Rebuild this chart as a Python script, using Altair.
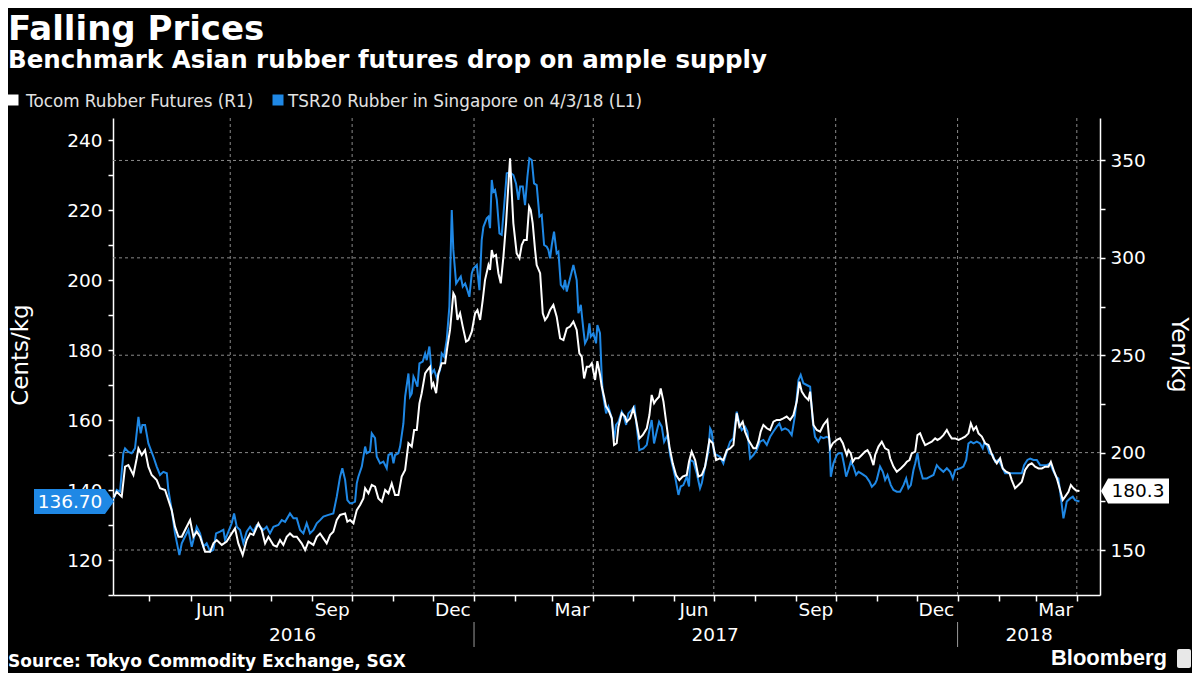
import altair as alt
import pandas as pd

# ---------------- data ----------------
BASE_DATE = "2016-04-04"   # day offsets below are counted from this date

# TSR20 Rubber in Singapore, US cents/kg (left axis): (day offset, value)
tsr20_points = [
    (0, 137.5), (2.3, 140.0), (4.8, 139.5), (7.3, 150.5), (8.6, 151.9), (11.1, 150.9), (13.6, 150.5),
    (16.1, 151.9), (18.7, 160.9), (20.4, 156.2), (21.7, 158.6), (23.7, 158.6), (26.2, 153.3),
    (30.0, 149.5), (32.5, 146.7), (35.0, 144.3), (37.5, 145.2), (40.1, 144.8), (41.3, 140.0),
    (43.8, 134.3), (46.3, 127.6), (49.6, 121.4), (51.4, 124.8), (53.9, 126.7), (56.4, 128.6),
    (58.9, 123.8), (62.7, 129.5), (65.2, 127.6), (67.7, 123.8), (70.2, 124.8), (72.8, 122.4),
    (75.3, 122.9), (77.3, 127.6), (80.3, 128.1), (82.8, 128.6), (84.1, 125.7), (86.6, 128.1),
    (89.1, 130.5), (90.9, 133.3), (92.9, 129.5), (95.4, 128.6), (97.9, 124.8), (100.4, 128.1),
    (103.0, 129.5), (105.5, 128.1), (108.0, 130.0), (110.5, 129.5), (113.0, 128.6), (115.5, 129.5),
    (118.0, 127.6), (120.6, 129.5), (124.3, 130.0), (126.9, 131.4), (129.4, 130.9), (133.1, 133.3),
    (135.7, 131.9), (138.2, 131.9), (140.7, 128.6), (143.2, 127.6), (145.7, 130.5), (148.2, 127.6),
    (150.8, 128.6), (153.3, 130.5), (155.8, 131.4), (158.3, 132.4), (162.1, 132.9), (165.8, 133.3),
    (168.4, 138.1), (170.9, 143.8), (172.6, 146.2), (174.7, 142.9), (176.4, 137.1), (178.4, 136.2),
    (179.7, 136.2), (182.2, 136.7), (183.5, 141.9), (184.7, 143.8), (187.3, 146.7), (189.8, 152.4),
    (191.0, 150.5), (193.5, 151.0), (194.8, 156.2), (197.3, 154.8), (198.6, 149.5), (201.1, 147.6),
    (203.6, 148.1), (206.1, 146.2), (207.4, 150.0), (209.9, 150.5), (211.2, 147.6), (212.4, 150.0),
    (214.9, 150.5), (216.2, 152.4), (218.7, 159.0), (220.0, 166.7), (222.5, 173.3), (223.7, 166.7),
    (225.0, 167.6), (226.3, 172.4), (227.5, 171.4), (229.3, 169.5), (230.8, 176.2), (233.3, 176.7),
    (235.1, 179.0), (236.3, 177.1), (238.3, 181.0), (240.1, 173.3), (241.9, 174.3), (243.9, 171.9),
    (246.4, 174.3), (247.6, 179.0), (249.4, 178.1), (251.4, 182.9), (253.4, 192.4), (255.2, 220.0),
    (256.4, 208.6), (258.5, 199.0), (260.2, 200.0), (262.0, 201.0), (263.5, 198.1), (265.3, 199.0),
    (267.0, 197.1), (268.5, 195.2), (270.3, 201.9), (271.5, 203.3), (274.1, 204.3), (276.1, 197.1),
    (277.8, 211.4), (279.1, 215.2), (281.6, 217.6), (282.9, 218.1), (284.1, 214.8), (285.4, 228.6),
    (286.6, 225.2), (287.9, 225.7), (289.2, 222.9), (291.2, 213.3), (292.9, 212.9), (294.7, 221.0),
    (296.7, 230.5), (299.2, 230.7), (301.7, 230.0), (303.7, 227.6), (305.5, 222.9), (306.8, 226.7),
    (308.8, 226.7), (310.5, 221.4), (312.3, 229.5), (313.8, 234.8), (315.6, 234.3), (317.3, 227.6),
    (319.3, 227.1), (321.4, 218.1), (323.1, 218.6), (324.9, 210.0), (326.9, 209.5), (328.1, 208.6),
    (329.4, 206.2), (330.7, 210.0), (332.4, 213.8), (334.4, 207.6), (335.7, 208.1), (337.5, 198.6),
    (339.5, 197.6), (340.7, 200.0), (342.0, 196.7), (344.5, 200.5), (347.0, 204.3), (349.5, 200.0),
    (350.8, 190.5), (352.6, 192.9), (354.6, 185.7), (355.8, 181.9), (357.6, 183.3), (359.1, 187.6),
    (360.1, 183.8), (362.1, 184.8), (364.1, 181.9), (365.1, 187.1), (367.1, 184.8),
    (368.4, 172.4), (369.2, 167.6), (371.7, 161.9), (373.4, 163.8), (376.0, 160.5), (377.7, 154.3),
    (379.2, 158.6), (381.0, 159.5), (383.5, 162.4), (384.8, 161.4), (386.8, 158.6), (388.5, 161.9),
    (391.0, 162.9), (393.1, 163.8), (394.8, 158.1), (396.8, 151.4), (399.9, 151.9), (402.4, 152.9),
    (404.4, 157.1), (406.1, 160.0), (407.9, 153.3), (409.9, 156.7), (411.7, 159.5), (413.7, 158.1),
    (415.5, 153.8), (418.0, 155.7), (420.0, 150.0), (422.0, 146.7), (423.8, 143.8), (426.3, 138.6),
    (428.0, 141.0), (430.0, 141.4), (432.6, 143.8), (434.3, 141.0), (435.1, 148.6), (437.6, 148.1),
    (440.1, 144.8), (442.6, 140.5), (443.9, 141.9), (446.4, 146.7), (448.9, 151.0), (450.2, 157.6),
    (451.4, 156.7), (453.2, 150.5), (455.2, 150.0), (457.7, 149.5), (460.2, 147.6), (462.8, 151.0),
    (465.3, 153.8), (467.8, 154.8), (470.3, 162.4), (472.3, 159.0), (474.1, 157.1), (476.6, 158.1),
    (478.4, 156.7), (480.4, 149.0), (482.9, 150.0), (485.4, 151.4), (487.9, 153.8), (490.4, 154.3),
    (493.0, 152.9), (495.5, 155.2), (498.0, 156.7), (500.5, 158.1), (502.5, 159.0), (504.3, 157.1),
    (506.8, 157.6), (509.3, 157.1), (511.8, 155.7), (514.3, 161.4), (516.9, 171.4), (518.6, 172.9),
    (520.6, 170.5), (523.1, 170.0), (525.7, 169.5), (527.7, 159.5), (529.4, 155.2), (531.9, 153.8),
    (533.7, 155.2), (535.7, 154.8), (538.2, 155.2), (540.2, 154.8), (541.3, 143.8), (543.3, 147.6),
    (545.8, 150.0), (547.1, 150.5), (549.6, 150.5), (551.4, 147.1), (552.9, 143.8), (554.6, 145.7),
    (556.4, 148.1), (558.4, 146.7), (560.4, 144.3), (562.2, 145.2), (564.0, 144.8), (566.0, 144.3),
    (568.0, 143.8), (570.5, 142.4), (572.3, 140.9), (574.8, 141.9), (576.0, 142.9), (578.5, 146.7),
    (580.6, 145.2), (582.3, 142.9), (584.1, 144.3), (586.6, 141.4), (588.6, 140.0), (591.1, 139.5),
    (593.6, 139.5), (596.2, 141.4), (598.2, 143.3), (599.9, 140.5), (601.7, 141.4), (603.7, 145.7),
    (605.0, 147.6), (606.7, 150.5), (608.2, 146.7), (610.7, 143.3), (613.8, 143.3), (616.3, 143.8),
    (618.8, 144.3), (621.3, 147.1), (623.3, 146.2), (626.3, 145.2), (628.9, 146.2), (631.4, 145.2),
    (633.4, 143.3), (635.2, 145.7), (638.9, 146.2), (641.4, 146.7), (643.5, 148.6), (645.2, 153.3),
    (647.0, 153.8), (649.0, 153.3), (651.5, 153.8), (654.0, 153.3), (656.0, 151.9), (657.0, 153.3),
    (659.1, 152.9), (661.1, 150.5), (663.6, 150.0), (665.3, 148.1), (667.9, 148.6), (670.4, 146.7),
    (672.9, 144.8), (676.7, 144.8), (681.7, 144.8), (685.5, 144.8), (687.2, 147.1), (689.7, 148.6),
    (691.8, 149.0), (694.3, 148.6), (696.8, 148.6), (699.3, 147.1), (701.8, 147.1), (704.3, 147.1),
    (706.9, 147.6), (708.9, 145.7), (711.4, 143.8), (713.1, 143.3), (714.9, 138.1), (716.9, 131.9),
    (718.2, 134.3), (719.4, 136.7), (722.0, 137.6), (724.0, 138.1), (725.7, 137.1), (729, 136.7),
]

# Tocom Rubber Futures, yen/kg (right axis): (day offset, value)
tocom_points = [
    (0, 177.0), (2.3, 179.9), (6.1, 177.4), (8.6, 192.8), (11.1, 193.6), (14.9, 188.5), (17.4, 197.0),
    (18.7, 202.2), (21.2, 198.8), (23.7, 201.3), (26.2, 192.8), (28.7, 188.5), (32.5, 185.9),
    (35.0, 181.7), (38.8, 180.8), (41.3, 175.7), (43.8, 170.5), (46.3, 162.0), (48.9, 156.8),
    (51.4, 156.8), (53.9, 160.3), (57.7, 165.4), (60.2, 156.8), (62.7, 159.4), (65.2, 156.8),
    (69.0, 149.1), (72.8, 149.1), (75.3, 153.4), (77.8, 155.1), (81.6, 152.6), (85.3, 154.3),
    (89.1, 158.5), (91.6, 161.1), (94.1, 153.4), (97.4, 147.4), (100.4, 155.1), (103.0, 158.5),
    (105.5, 157.7), (109.2, 163.7), (111.8, 160.3), (114.3, 153.4), (116.8, 156.8), (120.6, 152.5),
    (123.1, 151.7), (125.6, 155.1), (128.1, 152.6), (130.6, 156.8), (133.1, 158.5), (135.7, 156.8),
    (138.2, 156.8), (141.9, 153.4), (144.5, 150.0), (147.0, 154.3), (150.8, 152.6), (153.3, 156.8),
    (155.8, 158.5), (158.3, 156.0), (160.8, 153.4), (163.3, 157.7), (165.8, 159.4), (168.4, 165.4),
    (170.9, 168.0), (174.7, 168.8), (176.4, 164.5), (178.4, 165.4),
    (181.0, 163.7), (183.5, 170.5), (186.0, 173.1), (188.5, 176.5), (189.8, 181.7), (192.3, 179.1),
    (194.8, 183.4), (197.3, 182.5), (199.8, 176.5), (202.4, 174.8), (204.9, 180.8), (207.4, 179.1),
    (209.9, 184.2), (212.4, 178.2), (214.9, 178.2), (217.4, 187.7), (220.0, 191.1), (222.5, 204.8),
    (225.0, 203.1), (226.8, 211.6), (228.8, 211.6), (230.8, 225.3), (232.5, 230.5), (235.1, 240.7),
    (236.8, 242.4), (238.8, 244.1), (240.1, 233.9), (241.3, 235.6), (243.4, 230.5), (245.1, 240.7),
    (247.6, 245.9), (250.2, 245.9), (251.9, 254.4), (253.9, 263.0), (256.4, 281.8), (257.7, 280.1),
    (259.5, 268.1), (261.5, 271.5), (263.5, 264.7), (266.0, 257.0), (267.8, 257.8), (270.3, 262.1),
    (272.8, 271.5), (274.6, 273.2), (276.6, 268.1), (278.6, 278.4), (280.3, 288.6), (282.9, 296.3),
    (284.1, 293.8), (285.4, 304.0), (286.6, 300.6), (288.6, 301.5), (290.4, 292.1), (292.2, 286.9),
    (294.2, 300.6), (296.2, 317.7), (298.0, 338.3), (299.2, 351.1), (300.5, 333.1), (301.7, 317.7),
    (304.2, 302.3), (306.3, 299.8), (308.0, 306.6), (309.8, 309.2), (311.8, 309.2), (313.6, 326.3),
    (314.8, 324.6), (316.3, 317.7), (318.1, 304.0), (319.3, 296.3), (321.9, 292.1), (323.9, 271.5),
    (325.6, 268.1), (327.4, 269.8), (329.4, 273.2), (331.9, 275.8), (334.4, 269.8), (337.0, 258.7),
    (339.5, 257.8), (342.0, 263.8), (344.5, 264.7), (347.0, 267.2), (349.5, 263.0), (351.5, 251.0),
    (353.3, 249.3), (355.1, 238.1), (357.1, 244.1), (359.1, 244.1), (360.9, 245.9), (363.4, 237.3),
    (365.1, 247.0), (367.1, 240.0),
    (368.4, 233.9), (370.2, 228.7), (371.7, 223.6), (373.4, 221.9), (376.0, 217.6), (377.7, 203.9),
    (379.7, 204.8), (381.0, 213.3), (383.5, 220.2), (386.0, 218.5), (387.3, 215.9), (389.8, 217.6),
    (392.3, 222.7), (394.3, 216.8), (396.8, 207.3), (399.4, 209.1), (402.4, 212.5), (404.4, 219.3),
    (406.1, 229.6), (407.9, 225.3), (409.4, 227.0), (411.7, 228.7), (412.9, 233.0), (415.0, 226.2),
    (417.0, 215.9), (419.5, 203.1), (422.0, 194.5), (424.5, 188.5), (427.0, 185.9), (429.5, 187.7),
    (432.6, 188.5), (434.3, 195.4), (436.3, 200.5), (438.9, 196.2), (441.4, 187.7), (443.9, 188.5),
    (446.4, 192.8), (449.7, 206.5), (452.2, 204.8), (454.7, 196.2), (457.7, 197.1), (460.2, 196.2),
    (462.8, 201.3), (465.3, 202.2), (467.8, 203.9), (470.3, 220.2), (472.3, 213.3), (474.8, 215.9),
    (476.6, 210.8), (479.1, 206.5), (482.9, 202.2), (484.9, 202.2), (486.7, 205.6), (488.4, 210.8),
    (490.4, 214.2), (493.0, 212.5), (495.5, 211.6), (498.0, 215.9), (500.5, 216.8), (503.0, 216.8),
    (505.5, 217.6), (508.0, 218.5), (510.6, 216.8), (513.1, 219.3), (515.6, 226.2), (517.6, 236.4),
    (519.4, 231.3), (521.9, 228.7), (524.4, 227.0), (525.7, 231.3), (528.2, 214.2), (530.7, 211.6),
    (533.2, 210.8), (535.7, 214.2), (538.7, 216.8), (540.8, 202.2), (542.8, 204.8), (545.8, 206.5),
    (548.3, 207.3), (550.4, 204.8), (552.1, 201.3), (553.4, 198.8), (554.6, 201.3), (556.4, 199.6),
    (557.9, 195.3), (559.7, 197.1), (562.2, 197.1), (564.7, 198.8), (567.2, 200.5), (569.0, 201.3),
    (571.0, 198.8), (573.5, 193.6), (574.8, 198.8), (577.3, 203.1), (579.8, 205.6), (582.3, 202.2),
    (584.8, 201.3), (586.1, 197.1), (588.6, 192.8), (591.1, 190.2), (594.1, 191.9), (596.7, 193.6),
    (598.7, 195.3), (600.7, 196.2), (602.4, 199.6), (605.0, 200.5), (606.7, 209.0), (608.7, 209.9),
    (610.7, 206.5), (612.5, 203.9), (615.0, 204.8), (617.5, 205.6), (620.1, 207.3), (621.8, 206.5),
    (623.8, 207.3), (626.3, 209.0), (628.9, 211.6), (630.9, 209.0), (632.6, 207.3), (635.2, 207.3),
    (637.7, 206.5), (640.2, 207.3), (642.7, 208.2), (645.2, 209.9), (647.0, 215.0), (649.0, 211.6),
    (651.0, 213.3), (652.8, 209.9), (655.3, 208.2), (657.8, 204.8), (660.3, 203.9), (662.1, 200.5),
    (664.1, 197.1), (666.6, 194.5), (669.1, 197.1), (671.1, 191.9), (673.6, 190.2), (676.2, 189.4),
    (677.9, 185.9), (680.4, 181.7), (683.0, 183.4), (685.5, 185.1), (688.0, 191.1), (690.5, 193.6),
    (693.0, 194.5), (695.5, 192.8), (698.1, 191.9), (700.6, 191.9), (703.1, 192.8), (705.6, 192.8),
    (707.4, 195.3), (709.9, 190.2), (711.9, 186.8), (714.4, 180.8), (716.4, 175.7), (718.2, 177.4),
    (720.7, 179.9), (722.5, 183.4), (724.5, 181.7), (726.5, 180.5), (729, 180.3),
]

left_ticks = [110, 120, 130, 140, 150, 160, 170, 180, 190, 200, 210, 220, 230, 240]
right_ticks = [150, 175, 200, 225, 250, 275, 300, 325, 350]
right_grid = [150, 200, 250, 300, 350]
quarter_grid = ["2016-07-01", "2016-10-01", "2017-01-01", "2017-04-01",
                "2017-07-01", "2017-10-01", "2018-01-01", "2018-04-01"]
month_label_text = ["Jun", "Sep", "Dec", "Mar", "Jun", "Sep", "Dec", "Mar"]
month_label_dates = ["2016-06-16", "2016-09-16", "2016-12-16", "2017-03-16",
                     "2017-06-16", "2017-09-16", "2017-12-16", "2018-03-16"]
year_text = ["2016", "2017", "2018"]
year_dates = ["2016-08-17", "2017-07-02", "2018-02-24"]
year_breaks = ["2017-01-01", "2018-01-01"]

BLUE = "#1f88e5"
WHITE = "#ffffff"
GRID = "#8a8a8a"
FONT = "DejaVu Sans"

# ---------------- frames ----------------
base = pd.Timestamp(BASE_DATE)
tsr_days, tsr_vals = zip(*tsr20_points)
toc_days, toc_vals = zip(*tocom_points)
df_tsr = pd.DataFrame({"date": base + pd.to_timedelta(list(tsr_days), unit="D"), "tsr": list(tsr_vals)})
df_toc = pd.DataFrame({"date": base + pd.to_timedelta(list(toc_days), unit="D"), "tocom": list(toc_vals)})
vgrid_df = pd.DataFrame({"date": pd.to_datetime(quarter_grid)})
hgrid_df = pd.DataFrame({"value": right_grid})
mlab_df = pd.DataFrame({"date": pd.to_datetime(month_label_dates), "t": month_label_text})
ylab_df = pd.DataFrame({"date": pd.to_datetime(year_dates), "t": year_text})
ybrk_df = pd.DataFrame({"date": pd.to_datetime(year_breaks)})
last_l = pd.DataFrame({"tsr": [tsr_vals[-1]], "t": [f"{tsr_vals[-1]:.2f}"]})
last_r = pd.DataFrame({"tocom": [toc_vals[-1]], "t": [f"{toc_vals[-1]:.1f}"]})

W, H = 987, 477

x_scale = alt.Scale(domain=[alt.DateTime(year=2016, month=4, date=3, hours=12),
                            alt.DateTime(year=2018, month=4, date=18, hours=12)], nice=False)
month_starts = pd.date_range("2016-05-01", "2018-04-01", freq="MS")
x_axis = alt.Axis(values=[alt.DateTime(year=d.year, month=d.month, date=1) for d in month_starts],
                  labels=False, grid=False, title=None, tickSize=6, tickWidth=1.5,
                  tickColor=WHITE, domainColor=WHITE, domainWidth=1.5)
# every layer with an x field uses the identical x definition so the shared axis merges cleanly
x_enc = alt.X("date:T", scale=x_scale, axis=x_axis)

left_scale = alt.Scale(domain=[110, 246.29], nice=False, zero=False)
right_scale = alt.Scale(domain=[126.9, 371.8], nice=False, zero=False)

left_axis = alt.Axis(orient="left", values=left_ticks,
                     labelExpr="datum.value % 20 == 0 ? datum.label : ''",
                     grid=False, title=None, tickSize=5, tickWidth=1.5, tickColor=WHITE,
                     domainColor=WHITE, domainWidth=1.5, labelColor=WHITE, labelFont=FONT,
                     labelFontSize=18.5, labelPadding=6, labelOverlap=False)
right_axis = alt.Axis(orient="right", values=right_ticks,
                      labelExpr="datum.value % 50 == 0 ? datum.label : ''",
                      grid=False, title=None, tickSize=5, tickWidth=1.5, tickColor=WHITE,
                      domainColor=WHITE, domainWidth=1.5, labelColor=WHITE, labelFont=FONT,
                      labelFontSize=18.5, labelPadding=5, labelOverlap=False)
y_left = alt.Y("tsr:Q", scale=left_scale, axis=left_axis)
y_right = alt.Y("tocom:Q", scale=right_scale, axis=right_axis)


def label(text, x, y, **kw):
    return alt.Chart(pd.DataFrame({"t": [text]})).mark_text(**kw).encode(
        x=alt.value(x), y=alt.value(y), text="t:N")


# ---------------- layers ----------------
vgrid = alt.Chart(vgrid_df).mark_rule(color=GRID, strokeDash=[3, 3], strokeWidth=1).encode(x=x_enc)
hgrid = alt.Chart(hgrid_df).mark_rule(color=GRID, strokeDash=[3, 3], strokeWidth=1).encode(
    y=alt.Y("value:Q", scale=right_scale, axis=None))

blue_line = alt.Chart(df_tsr).mark_line(color=BLUE, strokeWidth=2).encode(x=x_enc, y=y_left)
left_path = "M-1,-0.3125L0.775,-0.3125L1,0L0.775,0.3125L-1,0.3125Z"
blue_box = alt.Chart(last_l).mark_point(shape=left_path, size=6400, filled=True, color=BLUE,
                                        opacity=1, strokeWidth=0).encode(
    x=alt.value(-39), y=y_left)
blue_txt = alt.Chart(last_l).mark_text(font=FONT, fontSize=18.5, color=WHITE, align="center",
                                       baseline="middle").encode(
    x=alt.value(-43), y=y_left, text="t:N")
left_layer = alt.layer(blue_line, blue_box, blue_txt)

white_line = alt.Chart(df_toc).mark_line(color=WHITE, strokeWidth=2).encode(x=x_enc, y=y_right)
right_path = "M-1,0L-0.794,-0.368L1,-0.368L1,0.368L-0.794,0.368Z"
white_box = alt.Chart(last_r).mark_point(shape=right_path, size=4624, filled=True, color=WHITE,
                                         opacity=1, strokeWidth=0).encode(
    x=alt.value(1022), y=y_right)
white_txt = alt.Chart(last_r).mark_text(font=FONT, fontSize=18.5, color="#000000", align="center",
                                        baseline="middle").encode(
    x=alt.value(1025), y=y_right, text="t:N")
right_layer = alt.layer(white_line, white_box, white_txt)

month_labels = alt.Chart(mlab_df).mark_text(font=FONT, fontSize=18.5, color=WHITE, align="center",
                                            baseline="middle").encode(
    x=x_enc, y=alt.value(492), text="t:N")
year_labels = alt.Chart(ylab_df).mark_text(font=FONT, fontSize=18.5, color=WHITE, align="center",
                                           baseline="middle").encode(
    x=x_enc, y=alt.value(517), text="t:N")
year_breaks_r = alt.Chart(ybrk_df).mark_rule(color="#9a9a9a", strokeWidth=1).encode(
    x=x_enc, y=alt.value(504), y2=alt.value(529))

title = label("Falling Prices", -105, -78, font=FONT, fontSize=34, fontWeight="bold",
              color=WHITE, align="left", baseline="alphabetic")
subtitle = label("Benchmark Asian rubber futures drop on ample supply", -105, -50, font=FONT,
                 fontSize=24.5, fontWeight="bold", color=WHITE, align="left", baseline="alphabetic")

leg_w_sq = alt.Chart(pd.DataFrame({"t": ["w"]})).mark_point(
    shape="square", size=121, filled=True, opacity=1, strokeWidth=0, color=WHITE).encode(
    x=alt.value(-100), y=alt.value(-18))
leg_b_sq = alt.Chart(pd.DataFrame({"t": ["b"]})).mark_point(
    shape="square", size=121, filled=True, opacity=1, strokeWidth=0, color=BLUE).encode(
    x=alt.value(165), y=alt.value(-18))
leg_w_txt = label("Tocom Rubber Futures (R1)", -87, -11.5, font=FONT, fontSize=16.8,
                  color="#e2e2e2", align="left", baseline="alphabetic")
leg_b_txt = label("TSR20 Rubber in Singapore on 4/3/18 (L1)", 175, -11.5, font=FONT, fontSize=16.8,
                  color="#e2e2e2", align="left", baseline="alphabetic")

ytitle_l = label("Cents/kg", -92, 237, font=FONT, fontSize=23, color=WHITE, align="center",
                 baseline="middle", angle=270)
ytitle_r = label("Yen/kg", 1066, 237, font=FONT, fontSize=23, color=WHITE, align="center",
                 baseline="middle", angle=90)

source = label("Source: Tokyo Commodity Exchange, SGX", -105, 549, font=FONT, fontSize=17,
               fontWeight="bold", color=WHITE, align="left", baseline="alphabetic")
brand = label("Bloomberg", 1054, 547, font="Liberation Sans", fontSize=22, fontWeight="bold",
              color=WHITE, align="right", baseline="alphabetic")
icon = alt.Chart(pd.DataFrame({"t": ["i"]})).mark_rect(color="#e8e8e8", cornerRadius=2).encode(
    x=alt.value(1064), x2=alt.value(1078), y=alt.value(531), y2=alt.value(550))

chart = alt.layer(
    vgrid, hgrid, left_layer, right_layer,
    month_labels, year_labels, year_breaks_r,
    title, subtitle, leg_w_sq, leg_b_sq, leg_w_txt, leg_b_txt,
    ytitle_l, ytitle_r, source, brand, icon,
).resolve_scale(y="independent").properties(
    width=W, height=H,
    autosize=alt.AutoSizeParams(type="none"),
    padding={"left": 105, "top": 110, "right": 92, "bottom": 78},
    background="#000000",
).configure_view(stroke="transparent")

chart.save("out.html", embed_options={"renderer": "svg", "actions": False})
